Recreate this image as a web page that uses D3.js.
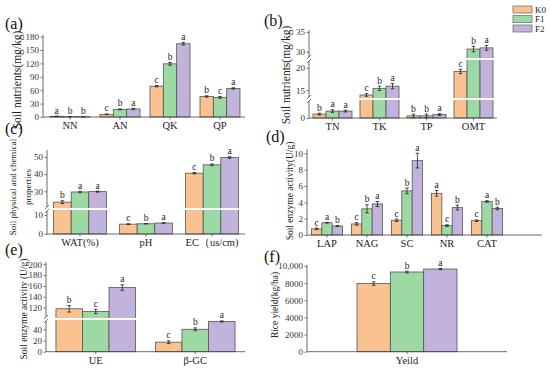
<!DOCTYPE html>
<html>
<head>
<meta charset="utf-8">
<script src="https://cdn.jsdelivr.net/npm/d3@7"></script>
<style>
  body { margin: 0; background: #fff; }
</style>
</head>
<body>
<div id="chart"></div>
<script>
const FONT = "'Liberation Serif', 'Times New Roman', serif";
const groups = ['K0', 'F1', 'F2'];
const colors = ['#F9C290', '#9DD9A3', '#C1B3DB'];

// (a)
const catsA = ['NN', 'AN', 'QK', 'QP'];
const k0A = [1.5, 6, 69, 46];
const f1A = [0.6, 17, 119, 44];
const f2A = [0.6, 18, 164, 64];
const errA = [[0.3, 0.8, 1.5, 1.5], [0.3, 1, 3, 2], [0.3, 1.5, 3, 1.5]];
const letA = [['a', 'c', 'c', 'b'], ['b', 'b', 'b', 'c'], ['b', 'a', 'a', 'a']];
const ticksA = [0, 30, 60, 90, 120, 150, 180];

// (b)
const catsB = ['TN', 'TK', 'TP', 'OMT'];
const k0B = [0.9, 13.9, 0.5, 19.2];
const f1B = [1.6, 15.4, 0.5, 30.7];
const f2B = [1.6, 15.9, 0.8, 31];
const errB = [[0.2, 0.3, 0.4, 0.5], [0.3, 0.5, 0.4, 0.7], [0.2, 0.6, 0.2, 0.6]];
const letB = [['b', 'c', 'b', 'c'], ['a', 'b', 'b', 'b'], ['a', 'a', 'a', 'a']];
const ticksB = [0, 15, 20, 30, 35];

// (c)
const catsC = ['WAT(%)', 'pH', 'EC（us/cm)'];
const k0C = [23.7, 5.2, 40.5];
const f1C = [29.6, 5.4, 45.4];
const f2C = [29.8, 5.8, 49.6];
const errC = [[0.8, 0.2, 0.4], [0.4, 0.1, 0.5], [0.3, 0.1, 0.5]];
const letC = [['b', 'c', 'c'], ['a', 'b', 'b'], ['a', 'a', 'a']];
const ticksC = [0, 10, 30, 40, 50];

// (d)
const catsD = ['LAP', 'NAG', 'SC', 'NR', 'CAT'];
const k0D = [0.75, 1.35, 1.8, 5.1, 1.75];
const f1D = [1.5, 3.2, 5.4, 1.15, 4.1];
const f2D = [1.1, 3.8, 9.1, 3.35, 3.25];
const errD = [[0.1, 0.15, 0.15, 0.35, 0.1], [0.05, 0.5, 0.35, 0.1, 0.1], [0.05, 0.3, 0.9, 0.3, 0.15]];
const letD = [['c', 'c', 'c', 'a', 'c'], ['a', 'b', 'b', 'c', 'a'], ['b', 'a', 'a', 'b', 'b']];
const ticksD = [0, 2, 4, 6, 8, 10];

// (e)
const catsE = ['UE', 'β-GC'];
const k0E = [118, 17];
const f1E = [113, 40];
const f2E = [157, 54];
const errE = [[6, 2.5], [4, 2.5], [5, 1]];
const letE = [['b', 'c'], ['c', 'b'], ['a', 'a']];
const ticksE = [0, 20, 40, 120, 140, 160, 180, 200];

// (f)
const catsF = ['Yeild'];
const k0F = [7950];
const f1F = [9300];
const f2F = [9650];
const errF = [[200], [100], [80]];
const letF = [['c'], ['b'], ['a']];
const ticksF = [0, 2000, 4000, 6000, 8000, 10000];
const tickLabelsF = ['0', '2000', '4000', '6000', '8000', '10,000'];

const svg = d3.select('#chart').append('svg')
  .attr('width', 550)
  .attr('height', 368)
  .attr('font-family', FONT)
  .style('font-family', FONT);

function drawPanel(p) {
  const g = svg.append('g');
  const series = [p.k0, p.f1, p.f2];

  const x = d3.scaleBand()
    .domain(p.cats)
    .range([p.x0, p.x1])
    .paddingInner(p.pad)
    .paddingOuter(p.pad / 2);
  const sub = d3.scaleBand()
    .domain(groups)
    .range([0, x.bandwidth()]);
  const y = d3.scaleLinear()
    .domain(p.yDomain)
    .range(p.yRange);

  // bars
  series.forEach((vals, s) => {
    g.selectAll(null)
      .data(vals)
      .enter()
      .append('rect')
      .attr('x', (d, i) => x(p.cats[i]) + sub(groups[s]))
      .attr('y', d => y(d))
      .attr('width', sub.bandwidth())
      .attr('height', d => y(0) - y(d))
      .attr('fill', colors[s])
      .attr('stroke', '#555')
      .attr('stroke-width', 0.8);
  });

  // white break lines across the plot
  (p.breaks || []).forEach(b => {
    g.append('line')
      .attr('x1', p.axisX0 + 1).attr('x2', p.axisX1)
      .attr('y1', b).attr('y2', b)
      .attr('stroke', '#fff')
      .attr('stroke-width', 2);
  });

  // error bars + letters
  series.forEach((vals, s) => {
    vals.forEach((v, i) => {
      const cx = x(p.cats[i]) + sub(groups[s]) + sub.bandwidth() / 2;
      const e = p.err[s][i];
      const yt = y(v + e), yb = y(v - e);
      g.append('line').attr('x1', cx).attr('x2', cx).attr('y1', yt).attr('y2', yb)
        .attr('stroke', '#222').attr('stroke-width', 0.8);
      [yt, yb].forEach(yy => g.append('line')
        .attr('x1', cx - 1.8).attr('x2', cx + 1.8).attr('y1', yy).attr('y2', yy)
        .attr('stroke', '#222').attr('stroke-width', 0.8));
      g.append('text')
        .attr('x', cx)
        .attr('y', Math.min(yt, y(v)) - 2.5)
        .attr('text-anchor', 'middle')
        .attr('font-size', '9.5px')
        .attr('fill', '#222')
        .text(p.letters[s][i]);
    });
  });

  // y axis
  const yAxis = d3.axisLeft(y)
    .tickValues(p.ticks)
    .tickSize(2.5)
    .tickPadding(1.5)
    .tickFormat((d, i) => p.tickLabels ? p.tickLabels[i] : d);
  const ya = g.append('g')
    .attr('transform', `translate(${p.axisX0},0)`)
    .call(yAxis)
    .attr('font-family', FONT);
  ya.select('.domain').remove();
  ya.selectAll('text').attr('font-size', '9px').attr('fill', '#333');
  ya.selectAll('line').attr('stroke', '#444').attr('stroke-width', 0.7);

  // y axis line, split at breaks
  const stops = [p.yRange[0]].concat(p.breaks || []).concat([p.yTop]);
  for (let k = 0; k < stops.length - 1; k++) {
    const a = stops[k] - (k > 0 ? 2 : 0);
    const b = stops[k + 1] + (k < stops.length - 2 ? 2 : 0);
    g.append('line')
      .attr('x1', p.axisX0).attr('x2', p.axisX0)
      .attr('y1', a).attr('y2', b)
      .attr('stroke', '#444').attr('stroke-width', 0.8);
  }
  (p.breaks || []).forEach(b => {
    [-2, 2].forEach(o => g.append('line')
      .attr('x1', p.axisX0 - 2).attr('x2', p.axisX0 + 2)
      .attr('y1', b + o + 2).attr('y2', b + o - 2)
      .attr('stroke', '#444').attr('stroke-width', 0.7));
  });

  // x axis
  g.append('line')
    .attr('x1', p.axisX0).attr('x2', p.axisX1)
    .attr('y1', y(0)).attr('y2', y(0))
    .attr('stroke', '#444').attr('stroke-width', 0.8);
  const xa = g.append('g')
    .attr('transform', `translate(0,${y(0)})`)
    .call(d3.axisBottom(x).tickSize(2.5).tickPadding(2))
    .attr('font-family', FONT);
  xa.select('.domain').remove();
  xa.selectAll('line').attr('stroke', '#444').attr('stroke-width', 0.7);
  xa.selectAll('text').attr('font-size', '10.5px').attr('fill', '#222');

  // y title
  p.title.forEach((t, k) => {
    g.append('text')
      .attr('transform', `translate(${p.titleX + k * p.titleGap},${p.titleY}) rotate(-90)`)
      .attr('text-anchor', 'middle')
      .attr('font-size', p.titleSize)
      .attr('fill', '#222')
      .text(t);
  });

  // panel label
  svg.append('text')
    .attr('x', p.labelX)
    .attr('y', p.labelY)
    .attr('font-size', '16px')
    .attr('fill', '#111')
    .text(p.label);
}

drawPanel({
  cats: catsA, k0: k0A, f1: f1A, f2: f2A, err: errA, letters: letA, ticks: ticksA,
  x0: 45, x1: 245, pad: 0.2, axisX0: 43, axisX1: 245,
  yDomain: [0, 182], yRange: [117, 35.7], yTop: 35,
  title: ['Soil nutrients(mg/kg)'], titleX: 21, titleY: 80, titleGap: 0, titleSize: '11.5px',
  label: '(a)', labelX: 5, labelY: 29
});

drawPanel({
  cats: catsB, k0: k0B, f1: f1B, f2: f2B, err: errB, letters: letB, ticks: ticksB,
  x0: 309, x1: 497, pad: 0.17, axisX0: 309, axisX1: 497,
  yDomain: [0, 4.4, 13, 22, 28.2, 35.5], yRange: [118, 99, 99, 59, 59, 30], yTop: 30,
  breaks: [99, 59],
  title: ['Soil nutrients(mg/kg)'], titleX: 290, titleY: 75, titleGap: 0, titleSize: '11.5px',
  label: '(b)', labelX: 264, labelY: 26
});

drawPanel({
  cats: catsC, k0: k0C, f1: f1C, f2: f2C, err: errC, letters: letC, ticks: ticksC,
  x0: 47, x1: 245, pad: 0.2, axisX0: 47, axisX1: 245,
  yDomain: [0, 13.2, 19.7, 54], yRange: [234, 209, 209, 150], yTop: 150,
  breaks: [209],
  title: ['Soil physical and chemical', 'properties'], titleX: 16, titleY: 187, titleGap: 15, titleSize: '9px',
  label: '(c)', labelX: 5, labelY: 134
});

drawPanel({
  cats: catsD, k0: k0D, f1: f1D, f2: f2D, err: errD, letters: letD, ticks: ticksD,
  x0: 307, x1: 507, pad: 0.22, axisX0: 307, axisX1: 542,
  yDomain: [0, 10.5], yRange: [235, 149.2], yTop: 149,
  title: ['Soil enzyme activity(U/g)'], titleX: 293, titleY: 191, titleGap: 0, titleSize: '9.5px',
  label: '(d)', labelX: 266, labelY: 142
});

drawPanel({
  cats: catsE, k0: k0E, f1: f1E, f2: f2E, err: errE, letters: letE, ticks: ticksE,
  x0: 46, x1: 245, pad: 0.2, axisX0: 46, axisX1: 245,
  yDomain: [0, 58.4, 99.2, 203], yRange: [351.7, 319, 319, 262.6], yTop: 262,
  breaks: [319],
  title: ['Soil enzyme activity (U/g)'], titleX: 27, titleY: 309, titleGap: 0, titleSize: '9.5px',
  label: '(e)', labelX: 5, labelY: 255
});

drawPanel({
  cats: catsF, k0: k0F, f1: f1F, f2: f2F, err: errF, letters: letF, ticks: ticksF, tickLabels: tickLabelsF,
  x0: 307, x1: 507, pad: 0.5, axisX0: 307, axisX1: 507,
  yDomain: [0, 10000], yRange: [351.7, 266], yTop: 265,
  title: ['Rice yield(kg/ha)'], titleX: 278, titleY: 305, titleGap: 0, titleSize: '9.5px',
  label: '(f)', labelX: 264, labelY: 262
});

// legend
const legend = svg.append('g');
groups.forEach((name, i) => {
  legend.append('rect')
    .attr('x', 513).attr('y', 6 + i * 9.5)
    .attr('width', 19).attr('height', 7)
    .attr('fill', colors[i])
    .attr('stroke', '#777').attr('stroke-width', 0.8);
  legend.append('text')
    .attr('x', 535).attr('y', 12.5 + i * 9.5)
    .attr('font-size', '9px')
    .attr('fill', '#222')
    .text(name);
});
</script>
</body>
</html>
